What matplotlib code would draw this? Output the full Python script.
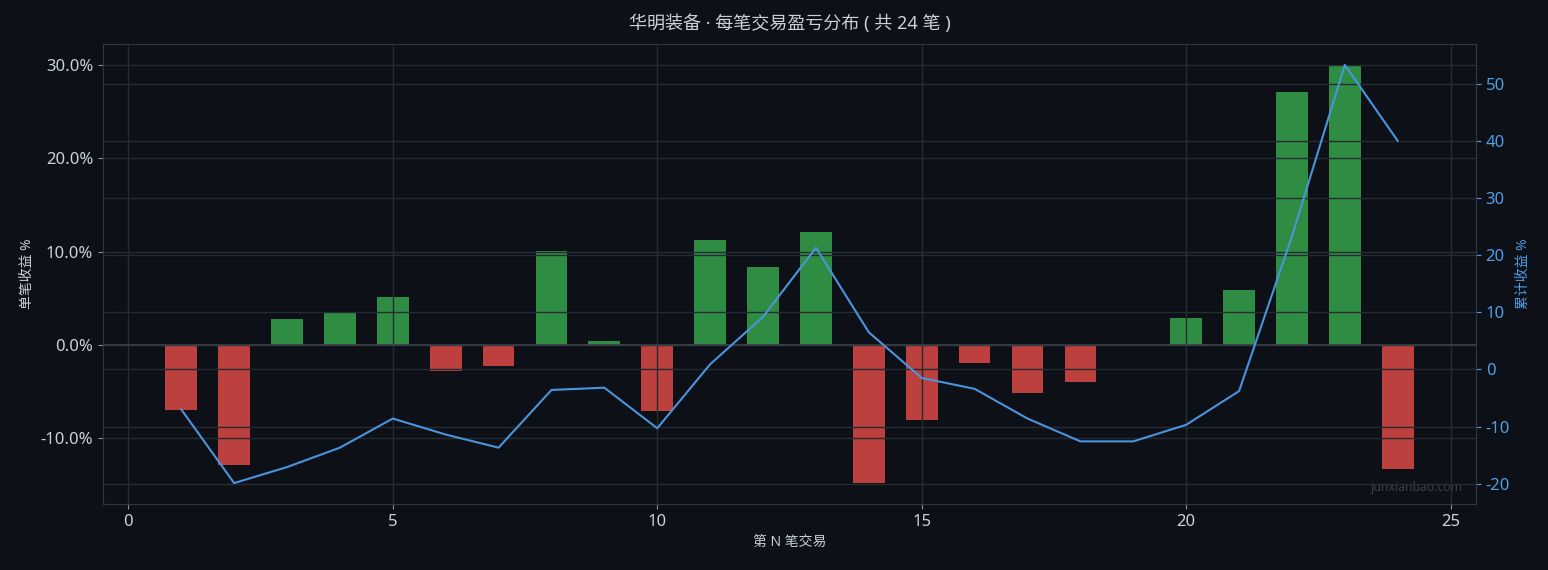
import numpy as np
import matplotlib
matplotlib.use("Agg")
import matplotlib.pyplot as plt
from matplotlib.ticker import FuncFormatter

plt.rcParams['font.family'] = ['Noto Sans', 'Noto Sans CJK SC', 'DejaVu Sans']
plt.rcParams['axes.unicode_minus'] = False

# per-trade return, %
trade_no = list(range(1, 25))
trade_ret = [-7.0, -12.9, 2.8, 3.4, 5.1, -2.8, -2.3, 10.1, 0.4, -7.1, 11.2, 8.3,
             12.1, -14.8, -8.0, -1.9, -5.2, -4.0, 0.0, 2.9, 5.9, 27.1, 30.0, -13.3]
cum_ret = np.cumsum(trade_ret)

bg = '#0d1017'
grid_c = '#262a33'
txt = '#c9d1d9'
blue = '#4a94dc'
tick_blue = '#4f9ee6'
green = '#2f8d43'
red = '#bb403e'

fig = plt.figure(figsize=(15.48, 5.7), dpi=100, facecolor=bg)
ax = fig.add_axes([0.0665, 0.1158, 0.887, 0.807])
ax.set_facecolor(bg)

colors = [green if v >= 0 else red for v in trade_ret]
ax.bar(trade_no, trade_ret, width=0.6, color=colors)
ax.axhline(0, color='#3a3f48', lw=1.2)
ax.yaxis.set_major_formatter(FuncFormatter(lambda v, p: f'{v:.1f}%'))
ax.grid(True, color=grid_c, lw=1)
ax.set_xlabel('第 N 笔交易', color=txt, fontsize=10)
ax.set_ylabel('单笔收益 %', color=txt, fontsize=10)
ax.tick_params(colors=txt, labelsize=12)
ax.tick_params(axis='both', color='#8b949e')
for s in ax.spines.values():
    s.set_color('#30363d')

ax2 = ax.twinx()
ax2.plot(trade_no, cum_ret, color=blue, lw=1.5)
ax2.grid(True, axis='y', color=grid_c, lw=1)
ax2.set_ylabel('累计收益 %', color=tick_blue, fontsize=10)
ax2.tick_params(axis='y', colors=tick_blue, labelsize=12)
for s in ax2.spines.values():
    s.set_color('#30363d')

ax.set_xticks([0, 5, 10, 15, 20, 25])
ax.set_title('华明装备 · 每笔交易盈亏分布 ( 共 24 笔 )', color=txt, fontsize=13, pad=11)
ax.text(0.99, 0.022, 'junxianbao.com', transform=ax.transAxes, ha='right', va='bottom',
        color='#3a3f48', fontsize=8.8)

fig.savefig('out.png', facecolor=bg)
